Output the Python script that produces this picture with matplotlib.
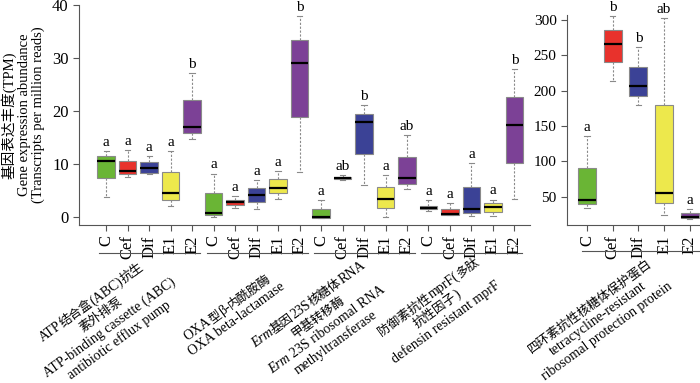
import math

import matplotlib
matplotlib.use("Agg")
import matplotlib.pyplot as plt
from matplotlib.transforms import blended_transform_factory

plt.rcParams["font.family"] = ["Liberation Serif", "Noto Sans CJK SC"]

treatments = ["C", "Cef", "Dif", "E1", "E2"]
colors = ["#6ab535", "#e8322c", "#3b4296", "#ede84c", "#7c4196"]

# left panel: 4 genes x 5 treatments -> (whislo, q1, med, q3, whishi)
left_stats = [
    # ATP-binding cassette
    [(3.7, 7.3, 10.6, 11.6, 12.5), (7.5, 8.1, 8.7, 10.6, 12.6), (8.1, 8.4, 9.2, 10.3, 11.5),
     (2.1, 3.3, 4.5, 8.5, 12.5), (14.7, 15.8, 16.9, 22.1, 27.2)],
    # OXA
    [(0.05, 0.4, 0.8, 4.5, 8.2), (1.8, 2.2, 2.8, 3.3, 4.0), (1.5, 2.8, 4.1, 5.5, 7.0),
     (3.5, 4.5, 5.5, 7.1, 8.7), (8.5, 18.8, 29.0, 33.4, 37.9)],
    # Erm
    [(-0.1, -0.1, 0.1, 1.6, 3.2), (7.0, 7.1, 7.3, 7.5, 7.9), (6.0, 11.9, 17.9, 19.5, 21.1),
     (0.1, 1.8, 3.5, 5.6, 7.9), (5.2, 6.2, 7.3, 11.4, 15.4)],
    # mprF
    [(1.1, 1.5, 1.8, 2.1, 3.2), (0.3, 0.3, 0.5, 1.5, 2.6), (0.2, 0.7, 1.5, 5.7, 10.2),
     (0.2, 1.0, 1.9, 2.6, 3.3), (3.4, 10.2, 17.4, 22.6, 27.9)],
]
left_letters = [
    ["a", "a", "a", "a", "b"],
    ["a", "a", "a", "a", "b"],
    ["a", "ab", "b", "a", "ab"],
    ["a", "a", "a", "a", "b"],
]
right_stats = [(33.5, 39.2, 45.3, 91.0, 136.3), (214.0, 240.6, 266.0, 285.8, 305.7),
               (179.0, 192.5, 206.6, 234.0, 262.0), (24.0, 40.6, 55.7, 179.0, 302.0),
               (19.0, 19.3, 21.7, 26.4, 32.0)]
right_letters = ["a", "b", "b", "ab", "a"]

# gene labels: each line is a list of (text, italic) pieces
gene_labels = [
    [[("ATP结合盒(ABC)抗生", False)], [("素外排泵", False)],
     [("ATP-binding cassette (ABC)", False)], [("antibiotic efflux pump", False)]],
    [[("OXA型β-内酰胺酶", False)], [("OXA beta-lactamase", False)]],
    [[("Erm", True), ("基因23S核糖体RNA", False)], [("甲基转移酶", False)],
     [("Erm", True), (" ", False), ("23S ribosomal RNA", False)], [("methyltransferase", False)]],
    [[("防御素抗性mprF(多肽", False)], [("抗性因子)", False)],
     [("defensin resistant mprF", False)]],
    [[("四环素抗性核糖体保护蛋白", False)], [("tetracycline-resistant", False)],
     [("ribosomal protection protein", False)]],
]
ylabel = "基因表达丰度(TPM)\nGene expression abundance\n(Transcripts per million reads)"

spine_c = "#555555"
edge_c = "#8a8a8a"
W_PX, H_PX = 700, 383


def draw_boxes(ax, stats, letters, positions, width):
    items = []
    for s in stats:
        lo, q1, med, q3, hi = s
        items.append(dict(whislo=lo, q1=q1, med=med, q3=q3, whishi=hi, fliers=[]))
    res = ax.bxp(items, positions=positions, widths=width, patch_artist=True,
                 showfliers=False, capwidths=width * 0.3,
                 boxprops=dict(edgecolor=edge_c, linewidth=0.8),
                 medianprops=dict(color="black", linewidth=1.6),
                 whiskerprops=dict(color=edge_c, linewidth=0.8, linestyle=(0, (2, 1.5))),
                 capprops=dict(color=edge_c, linewidth=0.8))
    for i, b in enumerate(res["boxes"]):
        b.set_facecolor(colors[i % 5])
    for p, s, lt in zip(positions, stats, letters):
        ax.annotate(lt, (p, s[4]), xytext=(0, 1.5), textcoords="offset points",
                    ha="center", va="bottom", fontsize=11)


def style(ax, ysize):
    for sp in ("top", "right"):
        ax.spines[sp].set_visible(False)
    for sp in ("left", "bottom"):
        ax.spines[sp].set_color(spine_c)
    ax.tick_params(axis="both", colors=spine_c, labelcolor="black", length=4)
    ax.tick_params(axis="y", labelsize=ysize)
    ax.tick_params(axis="x", labelsize=12, labelrotation=90)


def is_cjk(ch):
    return ord(ch) > 0x2E80


def split_runs(s):
    runs = []
    for ch in s:
        c = is_cjk(ch)
        if runs and runs[-1][1] == c:
            runs[-1][0] += ch
        else:
            runs.append([ch, c])
    return runs


def rotated_block(fig, lines, cx, cy, angle=36, fs=10, fs_cjk=9, lh=15.5):
    """Centred multi-line rotated label, built piece by piece (italic / CJK parts)."""
    renderer = fig.canvas.get_renderer()
    a = math.radians(angle)
    u = (math.cos(a), math.sin(a))
    n = (math.sin(a), -math.cos(a))
    cy = H_PX - cy
    for i, pieces in enumerate(lines):
        off = (i - (len(lines) - 1) / 2) * lh + 4
        mx, my = cx + off * n[0], cy + off * n[1]
        parts = []
        for s, it in pieces:
            if s == " ":
                parts.append((None, False, fs, fs * 0.3))
                continue
            for run, c in split_runs(s):
                size = fs_cjk if c else fs
                t = fig.text(0, 0, run, fontsize=size, style="italic" if it else "normal")
                w = t.get_window_extent(renderer).width
                t.remove()
                parts.append((run, it, size, w))
        total = sum(p[3] for p in parts)
        x0 = mx - total / 2 * u[0]
        y0 = my - total / 2 * u[1]
        acc = 0
        for run, it, size, w in parts:
            if run:
                fig.text((x0 + acc * u[0]) / W_PX, (y0 + acc * u[1]) / H_PX, run,
                         fontsize=size, style="italic" if it else "normal",
                         rotation=angle, rotation_mode="anchor",
                         ha="left", va="baseline")
            acc += w


fig = plt.figure(figsize=(7.0, 3.83), dpi=100)
ax1 = fig.add_axes([0.113, 0.4125, 0.644, 0.5745])
ax2 = fig.add_axes([0.81, 0.4125, 0.19, 0.5485])

pos1 = list(range(1, 21))
flat = [s for g in left_stats for s in g]
flat_letters = [lt for g in left_letters for lt in g]
draw_boxes(ax1, flat, flat_letters, pos1, 0.82)
ax1.set_xlim(-0.26, 20.72)
ax1.set_ylim(-1.5, 40)
ax1.set_yticks([0, 10, 20, 30, 40])
ax1.set_xticks(pos1, treatments * 4)
style(ax1, 12)
ax1.set_ylabel(ylabel, fontsize=10.5, linespacing=1.1)
ax1.yaxis.set_label_coords(-0.075, 0.5)

pos2 = list(range(1, 6))
draw_boxes(ax2, right_stats, right_letters, pos2, 0.7)
ax2.set_xlim(0.22, 5.4)
ax2.set_ylim(10, 307)
ax2.set_yticks([50, 100, 150, 200, 250, 300])
ax2.set_xticks(pos2, treatments)
style(ax2, 11)

# group underlines
tr1 = blended_transform_factory(ax1.transData, ax1.transAxes)
for g in range(4):
    x0 = g * 5 + 1 - 0.33
    x1 = g * 5 + 5 + 0.37
    ax1.plot([x0, x1], [-0.126, -0.126], color=spine_c, lw=0.8, transform=tr1, clip_on=False)
tr2 = blended_transform_factory(ax2.transData, ax2.transAxes)
ax2.plot([0.8, 5.6], [-0.126, -0.126], color=spine_c, lw=0.8, transform=tr2, clip_on=False)

# rotated gene labels, centres in figure pixels from the top-left
label_centres = [(105, 321), (232, 313), (322, 323), (437, 309), (598, 318)]
for lines, (px, py) in zip(gene_labels, label_centres):
    rotated_block(fig, lines, px, py)

fig.savefig("out.png", dpi=100)
